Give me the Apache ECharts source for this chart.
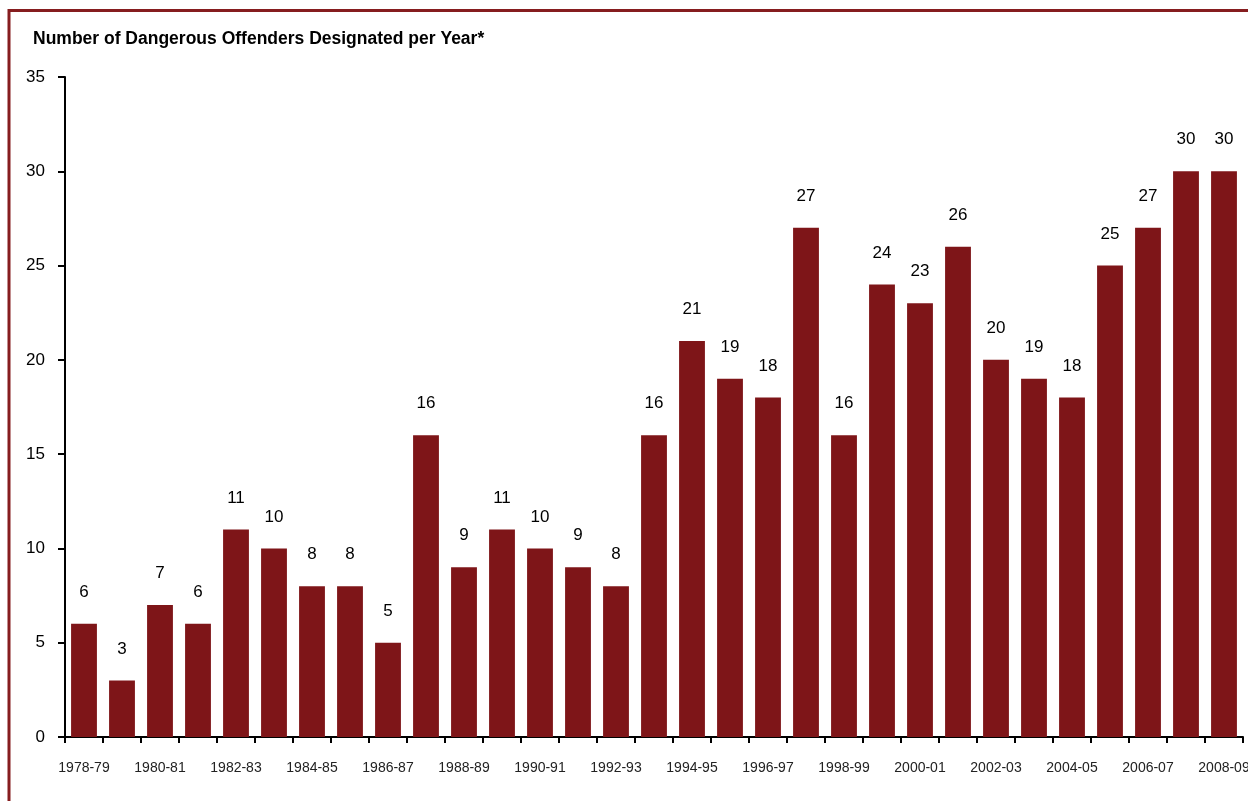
<!DOCTYPE html>
<html>
<head>
<meta charset="utf-8">
<style>
  html, body { margin: 0; padding: 0; background: #ffffff; }
  #chart { width: 1248px; height: 801px; }
</style>
<script src="https://cdn.jsdelivr.net/npm/echarts@6/dist/echarts.min.js"></script>
</head>
<body>
<div id="chart"></div>
<script>
const titleText = 'Number of Dangerous Offenders Designated per Year*';
const categories = ['1978-79','1979-80','1980-81','1981-82','1982-83','1983-84','1984-85','1985-86','1986-87','1987-88',
  '1988-89','1989-90','1990-91','1991-92','1992-93','1993-94','1994-95','1995-96','1996-97','1997-98',
  '1998-99','1999-00','2000-01','2001-02','2002-03','2003-04','2004-05','2005-06','2006-07','2007-08','2008-09'];
const offenders = [6,3,7,6,11,10,8,8,5,16,9,11,10,9,8,16,21,19,18,27,16,24,23,26,20,19,18,25,27,30,30];
const yTicks = { min: 0, max: 35, interval: 5 };

const font = '"Liberation Sans", Arial, sans-serif';
const chart = echarts.init(document.getElementById('chart'), null, { renderer: 'canvas' });
chart.setOption({
  animation: false,
  backgroundColor: '#ffffff',
  title: {
    text: titleText,
    left: 33, top: 30, padding: 0,
    textStyle: { fontFamily: font, fontSize: 17.5, fontWeight: 'bold', color: '#000000' }
  },
  graphic: [{
    type: 'rect',
    shape: { x: 9, y: 10.5, width: 1300, height: 900 },
    style: { fill: 'none', stroke: '#861d1f', lineWidth: 3 },
    silent: true
  }],
  grid: { left: 65, right: 5, top: 77, bottom: 64, containLabel: false, outerBoundsMode: 'none' },
  xAxis: {
    type: 'category',
    data: categories,
    boundaryGap: true,
    axisLine: { lineStyle: { color: '#000000', width: 2 } },
    axisTick: { show: true, alignWithLabel: false, interval: 0, length: 6, lineStyle: { color: '#000000', width: 2 } },
    axisLabel: { interval: 1, margin: 24, fontFamily: font, fontSize: 14, color: '#222222', hideOverlap: false, showMaxLabel: true }
  },
  yAxis: {
    type: 'value',
    min: yTicks.min, max: yTicks.max, interval: yTicks.interval,
    splitLine: { show: false },
    axisLine: { show: true, lineStyle: { color: '#000000', width: 2 } },
    axisTick: { show: true, length: 7, lineStyle: { color: '#000000', width: 2 } },
    axisLabel: { margin: 20, padding: [0, 0, 6, 0], fontFamily: font, fontSize: 17, color: '#000000' }
  },
  series: [{
    type: 'bar',
    data: offenders,
    barCategoryGap: '32%',
    itemStyle: { color: '#7e1518' },
    label: {
      show: true, position: 'top', distance: 23,
      fontFamily: font, fontSize: 17, color: '#000000'
    }
  }]
});
</script>
</body>
</html>
